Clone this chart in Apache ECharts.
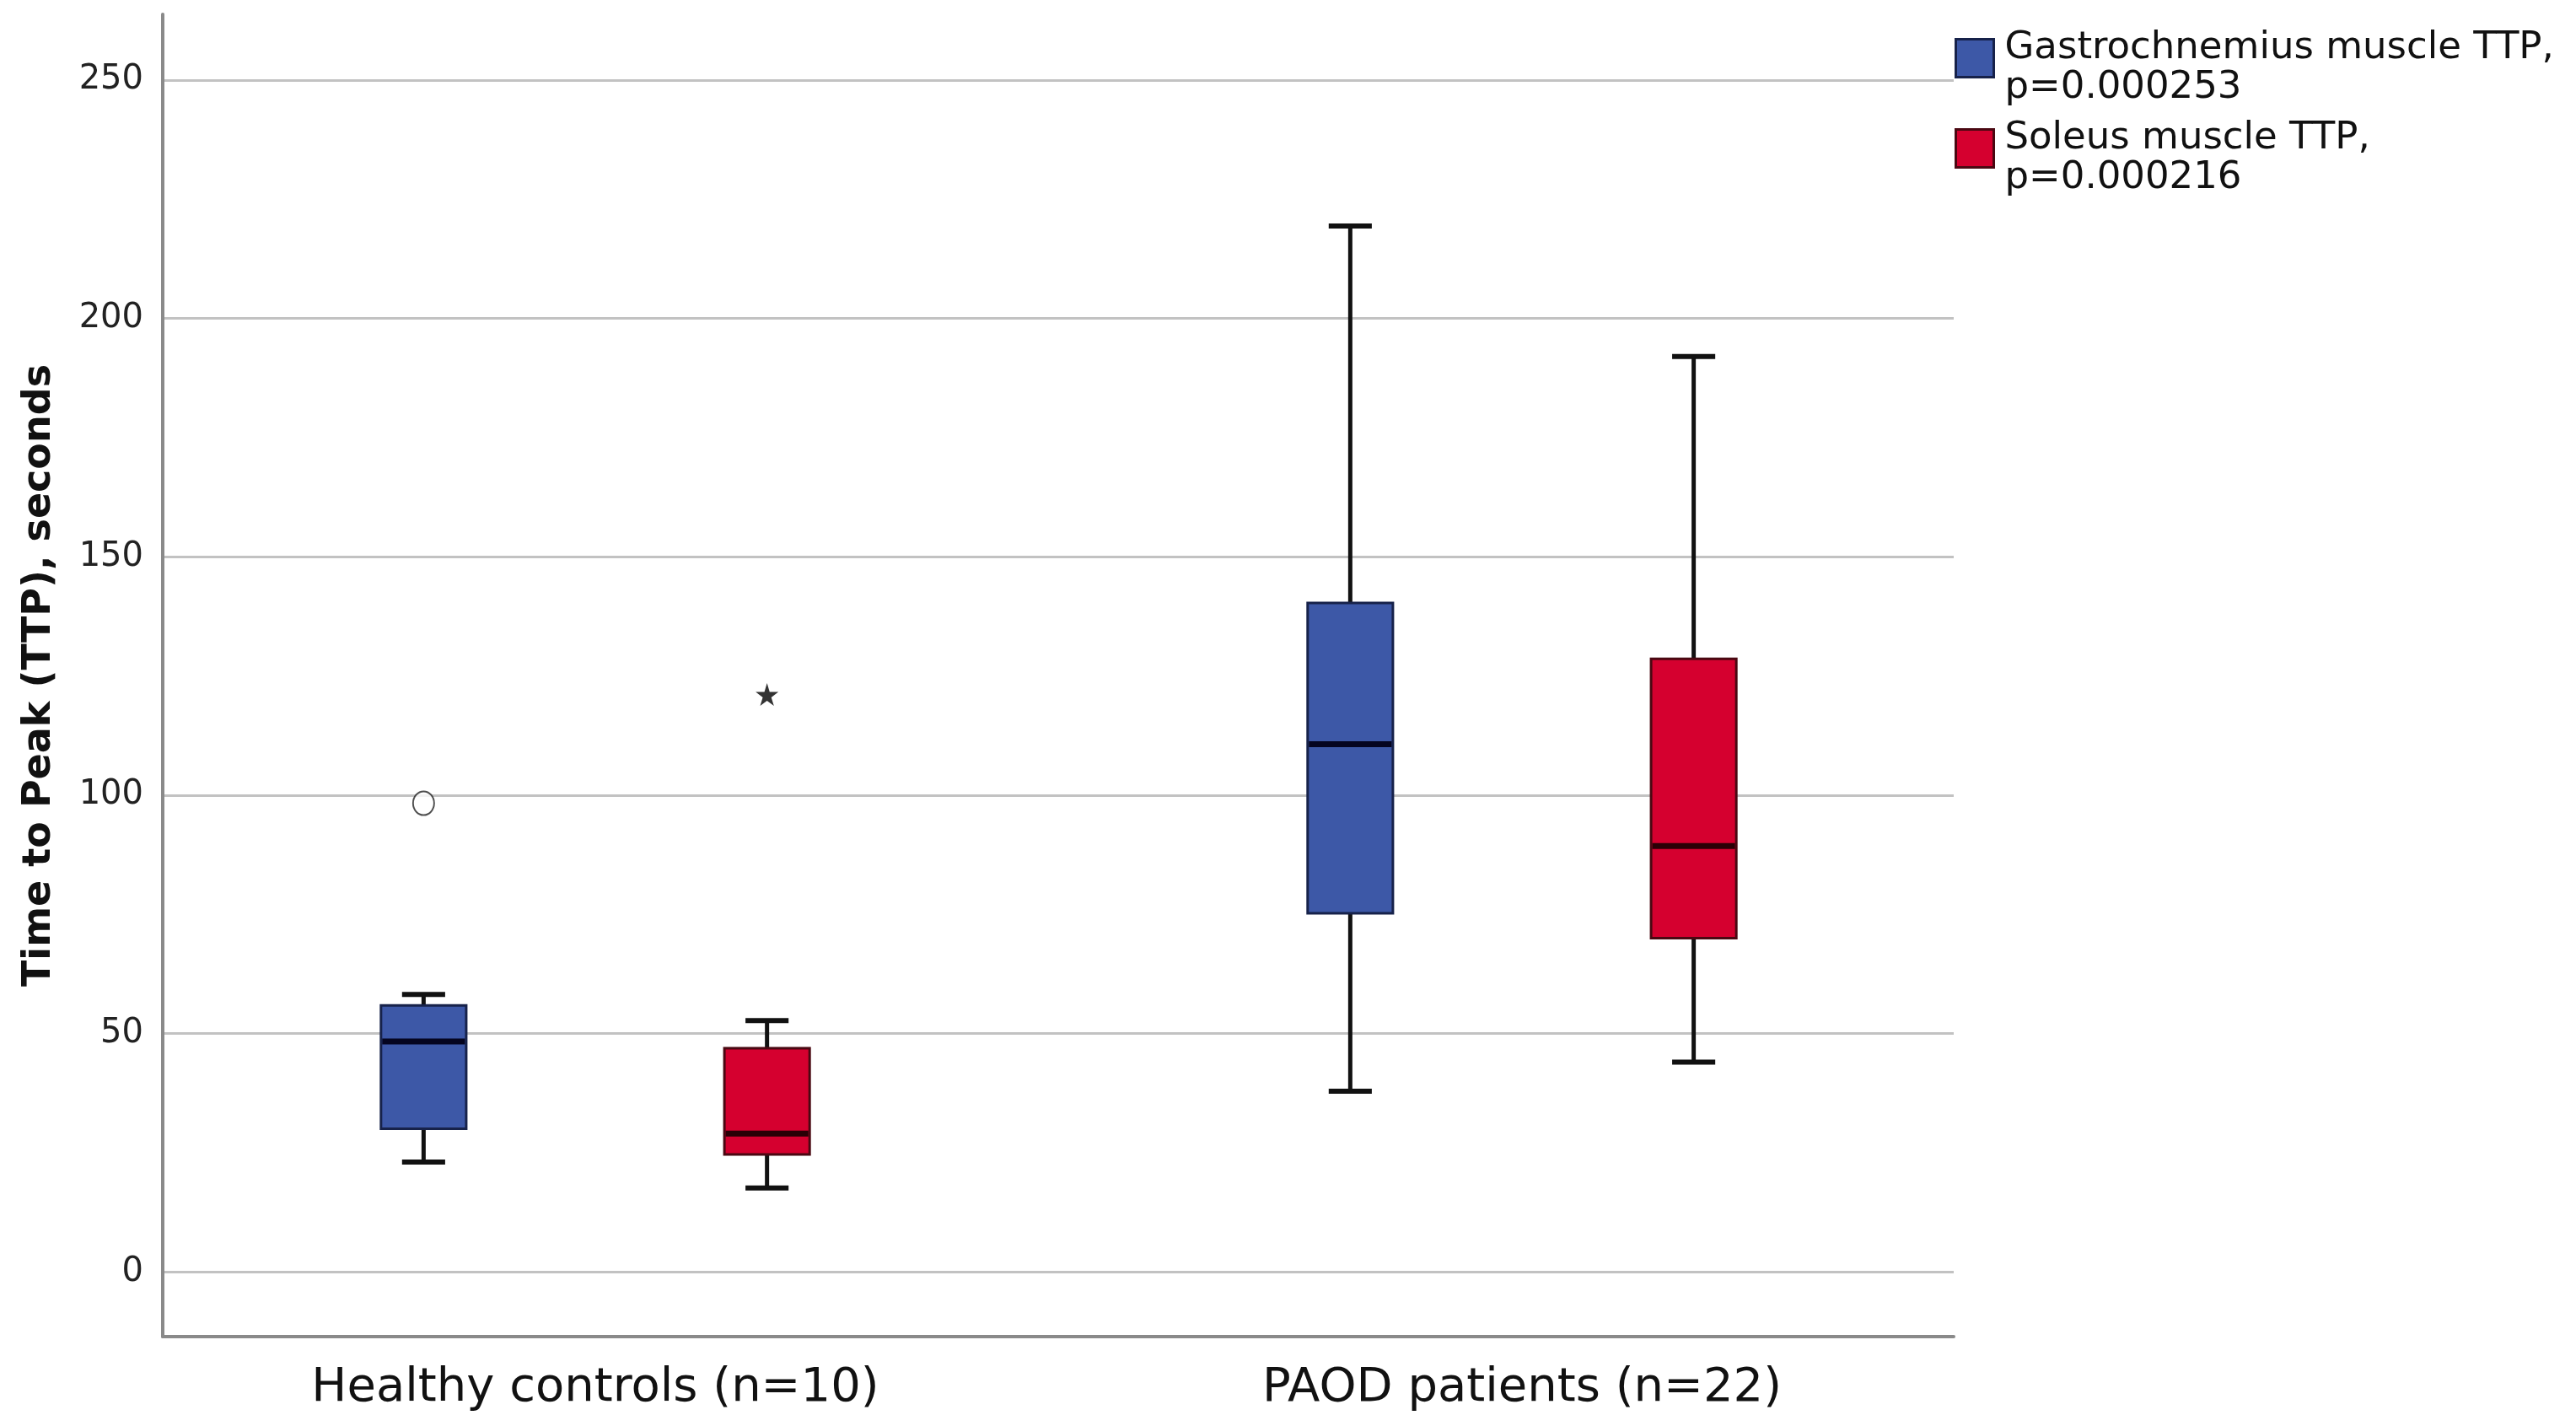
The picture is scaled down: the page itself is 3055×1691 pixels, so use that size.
<!DOCTYPE html>
<html>
<head>
<meta charset="utf-8">
<script src="https://cdn.jsdelivr.net/npm/echarts@6/dist/echarts.min.js"></script>
<style>
  html, body { margin: 0; padding: 0; background: #ffffff; }
  #chart { width: 3055px; height: 1691px; }
</style>
</head>
<body>
<div id="chart"></div>
<script>
// ---- Data ----
const categories = ['Healthy controls (n=10)', 'PAOD patients (n=22)'];
const seriesNames = ['Gastrochnemius muscle TTP,\np=0.000253', 'Soleus muscle TTP,\np=0.000216'];
// [categoryIndex, lowerWhisker, Q1, median, Q3, upperWhisker]
const gastrocBoxes = [
  [0, 23.0, 30.0, 48.3, 55.9, 58.2],
  [1, 37.9, 75.2, 110.7, 140.3, 219.4]
];
const soleusBoxes = [
  [0, 17.6, 24.6, 29.0, 46.9, 52.7],
  [1, 44.0, 70.0, 89.3, 128.6, 192.0]
];
// outliers: [categoryIndex, value]
const gastrocOutliers = [[0, 98.3]];
const soleusExtremes = [[0, 121.1]];
const yTicks = [0, 50, 100, 150, 200, 250];

// ---- Layout / style constants ----
const GROUP_OFFSET = 0.1853;   // position of each box relative to category centre (axis units)
const BOX_W = 0.092;           // box width (axis units)
const CAP_W = 0.0465;          // whisker cap width (axis units)
const FONT = 'DejaVu Sans';

const styles = [
  { fill: '#3d58a7', border: '#17224a', median: '#050520' },
  { fill: '#d5002f', border: '#4a0812', median: '#2a0006' }
];

function boxRenderer(offset, st) {
  return function (params, api) {
    const cat = api.value(0);
    const xc = api.coord([cat + offset, 0])[0];
    const unit = api.size([1, 0])[0];
    const bw = BOX_W * unit, cw = CAP_W * unit;
    const yLow = api.coord([0, api.value(1)])[1];
    const yQ1 = api.coord([0, api.value(2)])[1];
    const yMed = api.coord([0, api.value(3)])[1];
    const yQ3 = api.coord([0, api.value(4)])[1];
    const yHigh = api.coord([0, api.value(5)])[1];
    const lineStyle = { stroke: '#111111', lineWidth: 5 };
    return {
      type: 'group',
      children: [
        { type: 'line', shape: { x1: xc, y1: yHigh, x2: xc, y2: yQ3 }, style: lineStyle },
        { type: 'line', shape: { x1: xc, y1: yQ1, x2: xc, y2: yLow }, style: lineStyle },
        { type: 'line', shape: { x1: xc - cw / 2, y1: yHigh, x2: xc + cw / 2, y2: yHigh }, style: { stroke: '#111111', lineWidth: 6 } },
        { type: 'line', shape: { x1: xc - cw / 2, y1: yLow, x2: xc + cw / 2, y2: yLow }, style: { stroke: '#111111', lineWidth: 6 } },
        { type: 'rect', shape: { x: xc - bw / 2, y: yQ3, width: bw, height: yQ1 - yQ3 },
          style: { fill: st.fill, stroke: st.border, lineWidth: 3 } },
        { type: 'line', shape: { x1: xc - bw / 2 + 1.5, y1: yMed, x2: xc + bw / 2 - 1.5, y2: yMed },
          style: { stroke: st.median, lineWidth: 7 } }
      ]
    };
  };
}

const chart = echarts.init(document.getElementById('chart'));
const option = {
  backgroundColor: '#ffffff',
  animation: false,
  grid: { left: 193, right: 738, top: 17, bottom: 106, containLabel: false },
  legend: {
    orient: 'vertical',
    left: 2318,
    top: 10,
    padding: 0,
    itemWidth: 45,
    itemHeight: 45,
    itemGap: -11,
    icon: 'rect',
    selectedMode: false,
    formatter: function (name) { return '{s| }\n' + name; },
    textStyle: {
      fontFamily: FONT, fontSize: 45, lineHeight: 47, color: '#111', padding: [0, 0, 0, 8],
      rich: { s: { fontSize: 10, lineHeight: 24 } }
    },
    data: [
      { name: seriesNames[0], itemStyle: { color: styles[0].fill, borderColor: styles[0].border, borderWidth: 3 } },
      { name: seriesNames[1], itemStyle: { color: styles[1].fill, borderColor: styles[1].border, borderWidth: 3 } }
    ]
  },
  xAxis: {
    type: 'value',
    min: -0.4668,
    max: 1.4659,
    axisLine: { show: true, onZero: false, lineStyle: { color: '#8a8a8a', width: 4 } },
    axisTick: { show: false, customValues: [0, 1] },
    splitLine: { show: false },
    axisLabel: {
      customValues: [0, 1],
      formatter: function (v) { return categories[Math.round(v)]; },
      fontFamily: FONT, fontSize: 56, color: '#111', margin: 33
    }
  },
  yAxis: {
    type: 'value',
    min: -13.6,
    max: 263.8,
    name: 'Time to Peak (TTP), seconds',
    nameLocation: 'middle',
    nameGap: 123,
    nameTextStyle: { fontFamily: FONT, fontSize: 46, fontWeight: 'bold', color: '#111' },
    axisLine: { show: true, onZero: false, lineStyle: { color: '#8a8a8a', width: 4 } },
    axisTick: { show: false, customValues: yTicks },
    splitLine: { show: true, lineStyle: { color: '#c2c2c2', width: 3 } },
    axisLabel: {
      customValues: yTicks,
      fontFamily: FONT, fontSize: 40, color: '#222', margin: 23
    }
  },
  series: [
    {
      name: seriesNames[0],
      type: 'custom',
      renderItem: boxRenderer(-GROUP_OFFSET, styles[0]),
      itemStyle: { color: styles[0].fill },
      encode: { x: 0, y: [1, 2, 3, 4, 5] },
      data: gastrocBoxes,
      z: 3
    },
    {
      name: seriesNames[1],
      type: 'custom',
      renderItem: boxRenderer(GROUP_OFFSET, styles[1]),
      itemStyle: { color: styles[1].fill },
      encode: { x: 0, y: [1, 2, 3, 4, 5] },
      data: soleusBoxes,
      z: 3
    },
    {
      name: 'gastroc outliers',
      type: 'scatter',
      symbol: 'emptyCircle',
      symbolSize: [25, 28],
      itemStyle: { color: '#222222', borderColor: '#222222', borderWidth: 4 },
      data: gastrocOutliers.map(d => [d[0] - GROUP_OFFSET, d[1]]),
      z: 4
    },
    {
      name: 'soleus extremes',
      type: 'scatter',
      symbol: 'path://M50,0 L61,35 L98,35 L68,57 L79,91 L50,70 L21,91 L32,57 L2,35 L39,35 Z',
      symbolSize: 27,
      itemStyle: { color: '#000000' },
      data: soleusExtremes.map(d => [d[0] + GROUP_OFFSET, d[1]]),
      z: 4
    }
  ]
};
chart.setOption(option);
</script>
</body>
</html>
